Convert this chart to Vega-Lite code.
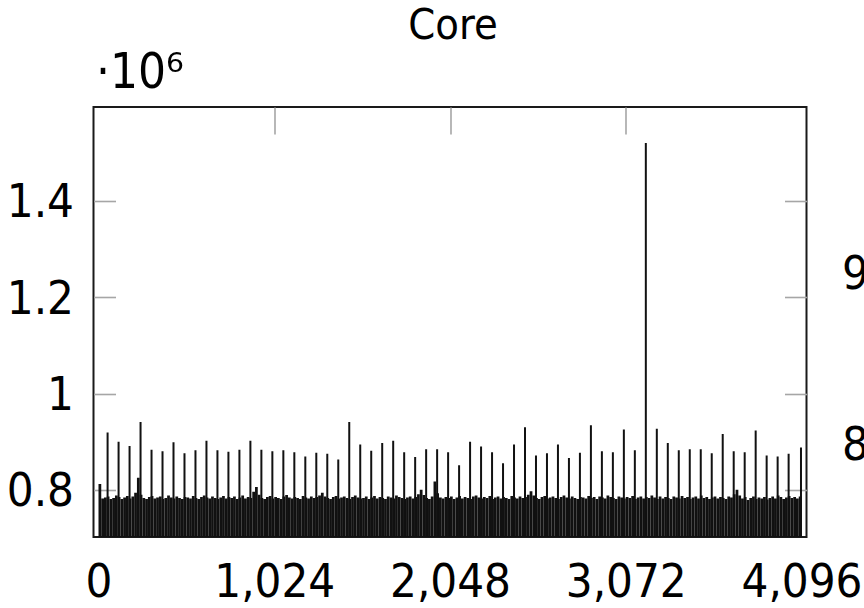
{
  "$schema": "https://vega.github.io/schema/vega-lite/v6.json",
  "width": 713,
  "height": 430,
  "autosize": {"type": "none"},
  "padding": {"left": 93.5, "top": 107, "right": 57.5, "bottom": 71},
  "background": "white",
  "config": {
    "font": "DejaVu Sans Condensed, DejaVu Sans",
    "view": {"stroke": "#1a1a1a", "strokeWidth": 2},
    "axis": {
      "labelFont": "DejaVu Sans Condensed, DejaVu Sans",
      "labelFontSize": 47,
      "labelColor": "black",
      "labelOverlap": false,
      "domain": false,
      "grid": false,
      "tickColor": "#a6a6a6",
      "tickWidth": 1.6,
      "zindex": 1,
      "titleFont": "DejaVu Sans Condensed, DejaVu Sans",
      "titleColor": "black"
    }
  },
  "datasets": {
    "base": [
      {"u":8,"v":812000},{"u":24,"v":782000},{"u":40,"v":784000},{"u":56,"v":786000},{"u":72,"v":781000},{"u":88,"v":783000},{"u":104,"v":788000},{"u":120,"v":785000},{"u":136,"v":781000},{"u":152,"v":784000},{"u":168,"v":787000},{"u":184,"v":782000},{"u":200,"v":786000},{"u":216,"v":794000},{"u":232,"v":825000},{"u":248,"v":790000},
      {"u":264,"v":783000},{"u":280,"v":781000},{"u":296,"v":785000},{"u":312,"v":787000},{"u":328,"v":782000},{"u":344,"v":784000},{"u":360,"v":786000},{"u":376,"v":781000},{"u":392,"v":783000},{"u":408,"v":788000},{"u":424,"v":784000},{"u":440,"v":782000},{"u":456,"v":786000},{"u":472,"v":783000},{"u":488,"v":781000},{"u":504,"v":785000},
      {"u":520,"v":784000},{"u":536,"v":782000},{"u":552,"v":787000},{"u":568,"v":783000},{"u":584,"v":781000},{"u":600,"v":785000},{"u":616,"v":788000},{"u":632,"v":784000},{"u":648,"v":782000},{"u":664,"v":786000},{"u":680,"v":783000},{"u":696,"v":781000},{"u":712,"v":784000},{"u":728,"v":787000},{"u":744,"v":782000},{"u":760,"v":785000},
      {"u":776,"v":783000},{"u":792,"v":786000},{"u":808,"v":781000},{"u":824,"v":784000},{"u":840,"v":788000},{"u":856,"v":782000},{"u":872,"v":785000},{"u":888,"v":783000},{"u":904,"v":796000},{"u":920,"v":806000},{"u":936,"v":790000},{"u":952,"v":783000},{"u":968,"v":781000},{"u":984,"v":785000},{"u":1000,"v":787000},{"u":1016,"v":782000},
      {"u":1032,"v":785000},{"u":1048,"v":783000},{"u":1064,"v":781000},{"u":1080,"v":786000},{"u":1096,"v":789000},{"u":1112,"v":784000},{"u":1128,"v":782000},{"u":1144,"v":785000},{"u":1160,"v":783000},{"u":1176,"v":781000},{"u":1192,"v":787000},{"u":1208,"v":784000},{"u":1224,"v":782000},{"u":1240,"v":786000},{"u":1256,"v":783000},{"u":1272,"v":785000},
      {"u":1288,"v":788000},{"u":1304,"v":794000},{"u":1320,"v":786000},{"u":1336,"v":783000},{"u":1352,"v":781000},{"u":1368,"v":785000},{"u":1384,"v":787000},{"u":1400,"v":782000},{"u":1416,"v":784000},{"u":1432,"v":786000},{"u":1448,"v":783000},{"u":1464,"v":781000},{"u":1480,"v":785000},{"u":1496,"v":788000},{"u":1512,"v":784000},{"u":1528,"v":782000},
      {"u":1544,"v":783000},{"u":1560,"v":786000},{"u":1576,"v":781000},{"u":1592,"v":784000},{"u":1608,"v":787000},{"u":1624,"v":782000},{"u":1640,"v":785000},{"u":1656,"v":783000},{"u":1672,"v":781000},{"u":1688,"v":786000},{"u":1704,"v":784000},{"u":1720,"v":782000},{"u":1736,"v":788000},{"u":1752,"v":785000},{"u":1768,"v":783000},{"u":1784,"v":781000},
      {"u":1800,"v":784000},{"u":1816,"v":786000},{"u":1832,"v":782000},{"u":1848,"v":785000},{"u":1864,"v":791000},{"u":1880,"v":800000},{"u":1896,"v":789000},{"u":1912,"v":783000},{"u":1928,"v":781000},{"u":1944,"v":786000},{"u":1960,"v":817000},{"u":1976,"v":793000},{"u":1992,"v":784000},{"u":2008,"v":782000},{"u":2024,"v":785000},{"u":2040,"v":783000},
      {"u":2056,"v":786000},{"u":2072,"v":781000},{"u":2088,"v":784000},{"u":2104,"v":787000},{"u":2120,"v":782000},{"u":2136,"v":785000},{"u":2152,"v":783000},{"u":2168,"v":781000},{"u":2184,"v":786000},{"u":2200,"v":788000},{"u":2216,"v":784000},{"u":2232,"v":782000},{"u":2248,"v":785000},{"u":2264,"v":783000},{"u":2280,"v":787000},{"u":2296,"v":781000},
      {"u":2312,"v":784000},{"u":2328,"v":786000},{"u":2344,"v":782000},{"u":2360,"v":785000},{"u":2376,"v":783000},{"u":2392,"v":781000},{"u":2408,"v":787000},{"u":2424,"v":784000},{"u":2440,"v":782000},{"u":2456,"v":786000},{"u":2472,"v":783000},{"u":2488,"v":785000},{"u":2504,"v":790000},{"u":2520,"v":797000},{"u":2536,"v":788000},{"u":2552,"v":783000},
      {"u":2568,"v":781000},{"u":2584,"v":785000},{"u":2600,"v":787000},{"u":2616,"v":782000},{"u":2632,"v":784000},{"u":2648,"v":786000},{"u":2664,"v":783000},{"u":2680,"v":781000},{"u":2696,"v":785000},{"u":2712,"v":788000},{"u":2728,"v":784000},{"u":2744,"v":782000},{"u":2760,"v":786000},{"u":2776,"v":783000},{"u":2792,"v":781000},{"u":2808,"v":785000},
      {"u":2824,"v":784000},{"u":2840,"v":782000},{"u":2856,"v":787000},{"u":2872,"v":783000},{"u":2888,"v":785000},{"u":2904,"v":781000},{"u":2920,"v":786000},{"u":2936,"v":784000},{"u":2952,"v":782000},{"u":2968,"v":788000},{"u":2984,"v":785000},{"u":3000,"v":783000},{"u":3016,"v":781000},{"u":3032,"v":786000},{"u":3048,"v":784000},{"u":3064,"v":782000},
      {"u":3080,"v":785000},{"u":3096,"v":783000},{"u":3112,"v":787000},{"u":3128,"v":781000},{"u":3144,"v":784000},{"u":3160,"v":786000},{"u":3176,"v":782000},{"u":3192,"v":785000},{"u":3208,"v":783000},{"u":3224,"v":788000},{"u":3240,"v":784000},{"u":3256,"v":781000},{"u":3272,"v":786000},{"u":3288,"v":782000},{"u":3304,"v":785000},{"u":3320,"v":783000},
      {"u":3336,"v":781000},{"u":3352,"v":786000},{"u":3368,"v":784000},{"u":3384,"v":782000},{"u":3400,"v":787000},{"u":3416,"v":783000},{"u":3432,"v":785000},{"u":3448,"v":781000},{"u":3464,"v":784000},{"u":3480,"v":786000},{"u":3496,"v":782000},{"u":3512,"v":788000},{"u":3528,"v":783000},{"u":3544,"v":785000},{"u":3560,"v":781000},{"u":3576,"v":784000},
      {"u":3592,"v":786000},{"u":3608,"v":782000},{"u":3624,"v":785000},{"u":3640,"v":783000},{"u":3656,"v":781000},{"u":3672,"v":786000},{"u":3688,"v":784000},{"u":3704,"v":791000},{"u":3720,"v":800000},{"u":3736,"v":788000},{"u":3752,"v":782000},{"u":3768,"v":785000},{"u":3784,"v":779000},{"u":3800,"v":783000},{"u":3816,"v":786000},{"u":3832,"v":781000},
      {"u":3848,"v":784000},{"u":3864,"v":782000},{"u":3880,"v":785000},{"u":3896,"v":780000},{"u":3912,"v":783000},{"u":3928,"v":786000},{"u":3944,"v":782000},{"u":3960,"v":788000},{"u":3976,"v":785000},{"u":3992,"v":781000},{"u":4008,"v":784000},{"u":4024,"v":787000},{"u":4040,"v":783000},{"u":4056,"v":785000},{"u":4072,"v":782000},{"u":4088,"v":786000}
    ],
    "peaks": [
      {"u":53,"v":919000},{"u":117,"v":900000},{"u":181,"v":891000},{"u":245,"v":941000},{"u":309,"v":883000},{"u":373,"v":880000},{"u":437,"v":899000},{"u":501,"v":876000},
      {"u":565,"v":882000},{"u":629,"v":902000},{"u":693,"v":882000},{"u":757,"v":879000},{"u":821,"v":883000},{"u":885,"v":902000},{"u":949,"v":883000},{"u":1013,"v":880000},
      {"u":1077,"v":882000},{"u":1141,"v":878000},{"u":1205,"v":869000},{"u":1269,"v":877000},{"u":1333,"v":875000},{"u":1397,"v":863000},{"u":1461,"v":941000},{"u":1525,"v":894000},
      {"u":1589,"v":881000},{"u":1653,"v":897000},{"u":1717,"v":902000},{"u":1781,"v":878000},{"u":1845,"v":868000},{"u":1909,"v":884000},{"u":1973,"v":884000},{"u":2037,"v":878000},
      {"u":2101,"v":851000},{"u":2165,"v":900000},{"u":2229,"v":890000},{"u":2293,"v":878000},{"u":2357,"v":855000},{"u":2421,"v":894000},{"u":2485,"v":930000},{"u":2549,"v":871000},
      {"u":2613,"v":876000},{"u":2677,"v":894000},{"u":2741,"v":866000},{"u":2805,"v":877000},{"u":2869,"v":934000},{"u":2933,"v":880000},{"u":2997,"v":878000},{"u":3061,"v":925000},
      {"u":3125,"v":882000},{"u":3189,"v":1520000},{"u":3253,"v":927000},{"u":3317,"v":897000},{"u":3381,"v":882000},{"u":3445,"v":884000},{"u":3509,"v":884000},{"u":3573,"v":876000},
      {"u":3637,"v":916000},{"u":3701,"v":880000},{"u":3765,"v":878000},{"u":3829,"v":923000},{"u":3893,"v":871000},{"u":3957,"v":869000},{"u":4021,"v":875000},{"u":4093,"v":888000}
    ]
  },
  "layer": [
    {
      "data": {"name": "base"},
      "mark": {"type": "bar", "color": "#111111", "size": 2.75, "clip": true},
      "encoding": {
        "x": {
          "field": "u", "type": "quantitative",
          "scale": {"domain": [0, 4096], "nice": false, "zero": false},
          "axis": {"orient": "bottom", "values": [0, 1024, 2048, 3072, 4096], "format": ",d", "ticks": false, "labelPadding": 22, "labelFlush": false, "title": null}
        },
        "y": {
          "field": "v", "type": "quantitative",
          "scale": {"domain": [702000, 1595000], "nice": false, "zero": false},
          "axis": {
            "orient": "left",
            "values": [800000, 1000000, 1200000, 1400000],
            "labelExpr": "format(datum.value/1000000, '.1~f')",
            "tickSize": -22,
            "labelPadding": 42,
            "labelBaseline": "middle",
            "labelOffset": 2,
            "title": "·10⁶",
            "titleAngle": 0,
            "titleAlign": "left",
            "titleBaseline": "alphabetic",
            "titleX": 2,
            "titleY": -20,
            "titleFontSize": 49,
            "titleFontWeight": "normal"
          }
        }
      }
    },
    {
      "data": {"name": "peaks"},
      "mark": {"type": "bar", "color": "#111111", "size": 2, "clip": true},
      "encoding": {
        "x": {
          "field": "u", "type": "quantitative",
          "scale": {"domain": [0, 4096], "nice": false, "zero": false},
          "axis": {
            "orient": "top", "values": [1024, 2048, 3072], "labels": false, "tickSize": -27,
            "title": "Core",
            "titleFontSize": 43,
            "titleFontWeight": "normal",
            "titleAngle": 0,
            "titleAlign": "center",
            "titleBaseline": "alphabetic",
            "titleX": 359,
            "titleY": -69
          }
        },
        "y": {
          "field": "v", "type": "quantitative",
          "scale": {"domain": [702000, 1595000], "nice": false, "zero": false},
          "axis": {
            "orient": "right",
            "values": [800000, 896000, 1000000, 1200000, 1251000, 1400000],
            "labelExpr": "datum.value == 896000 ? '8' : datum.value == 1251000 ? '9' : ''",
            "tickOpacity": {"condition": {"test": "datum.value == 896000 || datum.value == 1251000", "value": 0}, "value": 1},
            "tickSize": -22,
            "labelPadding": 57,
            "labelBaseline": "middle",
            "labelOffset": 2,
            "title": null
          }
        }
      }
    }
  ],
  "resolve": {"axis": {"x": "independent", "y": "independent"}}
}
